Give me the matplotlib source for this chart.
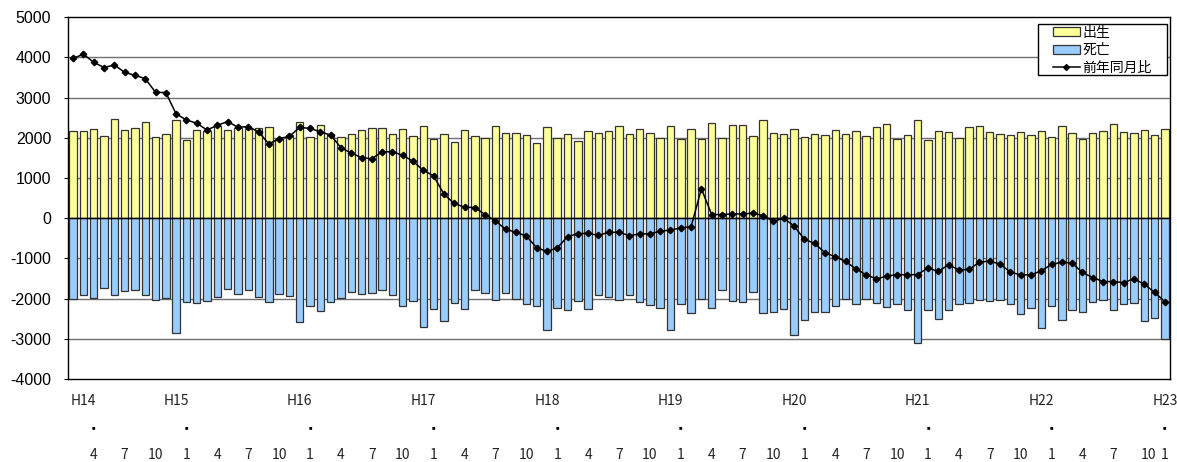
import matplotlib
matplotlib.use("Agg")
import matplotlib.pyplot as plt
from matplotlib.patches import Patch, Rectangle
from matplotlib.lines import Line2D
import matplotlib.transforms as mtransforms
import numpy as np

# Monthly data: H14 Mar ... H23 Jan (107 months)
start_year = 14
start_month = 3

births = [2180, 2164, 2230, 2048, 2463, 2206, 2240, 2388, 2023, 2090,
          2438, 1949, 2189, 2172, 2289, 2189, 2240, 2214, 2250, 2267,
          1975, 2067, 2400, 2025, 2308, 2108, 2017, 2108, 2192, 2242,
          2242, 2108, 2217, 2050, 2283, 1960, 2100, 1892, 2192, 2058,
          1992, 2283, 2125, 2125, 2075, 1875, 2258, 2000, 2100, 1917,
          2183, 2133, 2183, 2292, 2100, 2225, 2117, 1992, 2292, 1975,
          2225, 1975, 2358, 2000, 2308, 2317, 2042, 2433, 2133, 2092,
          2233, 2025, 2092, 2067, 2200, 2108, 2183, 2050, 2258, 2342,
          1967, 2067, 2450, 1942, 2175, 2142, 2008, 2258, 2283, 2150,
          2100, 2067, 2150, 2067, 2167, 2017, 2300, 2133, 1975, 2125,
          2183, 2333, 2158, 2133, 2208, 2075, 2217]

deaths = [-2007, -1915, -1990, -1733, -1907, -1808, -1783, -1907, -2031, -1990,
          -2860, -2081, -2114, -2056, -1949, -1758, -1891, -1774, -1958, -2083,
          -1875, -1925, -2592, -2192, -2308, -2083, -1983, -1825, -1875, -1850,
          -1775, -1917, -2192, -2058, -2708, -2250, -2558, -2108, -2250, -1792,
          -1858, -2042, -1850, -2017, -2142, -2183, -2775, -2225, -2275, -2067,
          -2267, -1900, -1958, -2042, -1917, -2083, -2167, -2242, -2775, -2142,
          -2358, -2008, -2225, -1792, -2067, -2083, -1842, -2350, -2325, -2250,
          -2900, -2525, -2325, -2342, -2183, -2000, -2142, -2017, -2117, -2208,
          -2125, -2275, -3108, -2292, -2500, -2275, -2125, -2108, -2042, -2067,
          -2025, -2125, -2375, -2242, -2725, -2192, -2525, -2275, -2333, -2083,
          -2042, -2275, -2125, -2100, -2567, -2475, -3008]

yoy = [3980, 4080, 3880, 3750, 3815, 3630, 3557, 3474, 3134, 3126,
       2595, 2446, 2363, 2197, 2313, 2405, 2264, 2280, 2150, 1850,
       1980, 2040, 2260, 2235, 2150, 2070, 1758, 1620, 1510, 1480,
       1655, 1655, 1567, 1417, 1192, 1055, 600, 367, 275, 267,
       92, -67, -275, -350, -442, -733, -825, -742, -458, -383,
       -375, -425, -350, -350, -433, -392, -383, -325, -292, -242,
       -208, 733, 92, 92, 108, 108, 125, 67, -75, 0,
       -192, -525, -625, -858, -958, -1075, -1258, -1408, -1508, -1442,
       -1400, -1408, -1400, -1233, -1325, -1158, -1283, -1275, -1090, -1067,
       -1142, -1342, -1408, -1408, -1308, -1150, -1092, -1117, -1350, -1475,
       -1575, -1575, -1600, -1508, -1642, -1842, -2075]

legend_labels = ["出生", "死亡", "前年同月比"]
y_ticks = [5000, 4000, 3000, 2000, 1000, 0, -1000, -2000, -3000, -4000]

n = len(births)
x = np.arange(n)
months = [((start_month - 1 + i) % 12) + 1 for i in range(n)]
years = [start_year + (start_month - 1 + i) // 12 for i in range(n)]

W, H = 1177, 462
fig = plt.figure(figsize=(W / 100, H / 100), dpi=100)
L, R, T, B = 68, 1170, 17.3, 379
ax = fig.add_axes([L / W, 1 - B / H, (R - L) / W, (B - T) / H])

jp = ["Noto Sans CJK JP", "DejaVu Sans"]

for yv in y_ticks:
    if yv in (5000, -4000):
        continue
    ax.axhline(yv, color="#000000" if yv == 0 else "#707070",
               lw=1.0, zorder=0.5)

ax.bar(x, births, width=0.72, color="#FFFF99", edgecolor="#333333",
       linewidth=0.9, zorder=2)
ax.bar(x, deaths, width=0.72, color="#99CCFF", edgecolor="#333333",
       linewidth=0.9, zorder=2)
ax.axhline(0, color="#000000", lw=1.0, zorder=2.5)
ax.plot(x, yoy, color="black", lw=1.1, marker="D", ms=3.3, zorder=3)

ax.set_xlim(-0.5, n - 0.5)
ax.set_ylim(-4000, 5000)
ax.set_yticks(y_ticks)
ax.set_yticklabels([f"{v}" if v >= 0 else f"-{abs(v)}" for v in y_ticks],
                   fontfamily="Liberation Sans", fontsize=11.5)
ax.tick_params(axis="y", length=3, width=0.8, pad=9, direction="out")
ax.set_xticks([])
for s in ax.spines.values():
    s.set_color("#000000")
    s.set_linewidth(1.0)

# Category labels (year row, dot row, month row)
trans = mtransforms.blended_transform_factory(ax.transData, fig.transFigure)
y_year, y_dot, y_mon = 1 - 401 / H, 1 - 427.7 / H, 1 - 455 / H
for i in range(n):
    if months[i] == 1 or i == 1:
        ax.text(i, y_year, f"H{years[i]}", transform=trans, ha="center",
                va="center", fontsize=10, family=jp, color="#222222")
label_pos = []
for i in range(n):
    if months[i] in (1, 4, 7, 10):
        label_pos.append((i + 1, months[i], i))
for k, (p, m, i) in enumerate(label_pos):
    if p > n - 1:
        p = n - 1
    if k == len(label_pos) - 2:
        p = p + 0.45
    ax.text(p, y_mon, f"{m}", transform=trans, ha="center", va="center",
            fontsize=10, family=jp, color="#222222")
    if m == 1 or k == 0:
        ax.text(p, y_dot, "■", transform=trans, ha="center", va="center",
                fontsize=2.5, family=jp, color="#000000")

# Legend: frame drawn separately to get wider side padding
fig.patches.append(Rectangle((1037.7 / W, 1 - 75.3 / H), (1166.7 - 1037.7) / W,
                             (75.3 - 24.3) / H, transform=fig.transFigure,
                             facecolor="white", edgecolor="black", lw=1.0,
                             zorder=4))
handles = [Patch(facecolor="#FFFF99", edgecolor="#333333", lw=0.9),
           Patch(facecolor="#99CCFF", edgecolor="#333333", lw=0.9),
           Line2D([], [], color="black", lw=1.1, marker="D", ms=3.0)]
leg = fig.legend(handles, legend_labels, loc="upper left",
                 bbox_to_anchor=(1052.5 / W, 1 - 25.5 / H),
                 bbox_transform=fig.transFigure, borderaxespad=0,
                 prop={"family": jp, "size": 10}, frameon=False,
                 handlelength=1.95, handleheight=0.58, handletextpad=0.2,
                 labelspacing=0.27, borderpad=0)
leg.set_zorder(5)

fig.savefig("out.png", dpi=100)
